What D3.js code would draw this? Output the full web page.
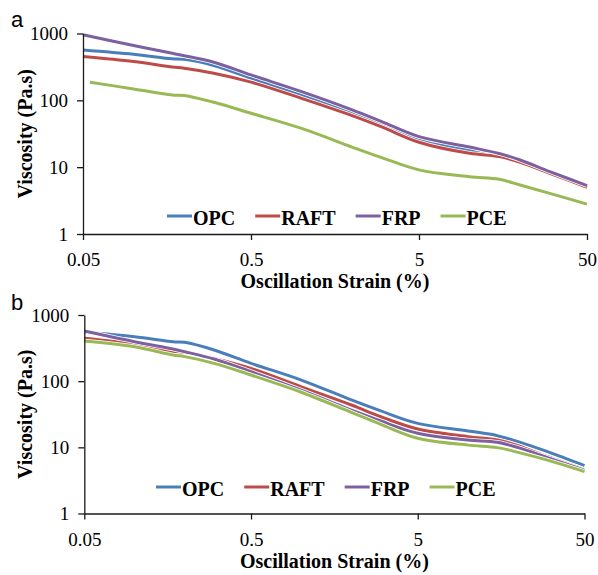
<!DOCTYPE html>
<html>
<head>
<meta charset="utf-8">
<script src="https://cdn.jsdelivr.net/npm/d3@7"></script>
<style>
  html, body { margin: 0; padding: 0; background: #fff; }
  svg { display: block; }
  svg text { font-family: 'Liberation Serif', 'Times New Roman', serif; }
  svg text.sans { font-family: 'Liberation Sans', Arial, sans-serif; }
</style>
</head>
<body>
<svg id="chart" width="598" height="575"></svg>
<script>
// ---- data ----
const seriesNames = ["OPC", "RAFT", "FRP", "PCE"];
const seriesColors = ["#4A7EBB", "#BE4B48", "#7D60A0", "#98B954"];
const strain = [0.05, 0.1, 0.17, 0.2, 0.3, 0.5, 1, 2, 3, 5, 10, 15, 20, 30, 50];
const strainPCEa = [0.055, 0.1, 0.17, 0.2, 0.3, 0.5, 1, 2, 3, 5, 10, 15, 20, 30, 50];

// panel a
const opcA  = [568, 490, 418, 410, 332, 215, 120, 66, 44, 25.5, 18, 15.2, 12, 8.4, 5.2];
const raftA = [451, 380, 316, 302, 254, 187, 107, 59, 40, 23.6, 16.1, 14.4, 11.8, 8.1, 5.0];
const frpA  = [955, 660, 505, 465, 372, 240, 135, 72, 48, 28.6, 20, 16, 12.8, 8.6, 5.3];
const pceA  = [187, 148, 120, 118, 93.5, 64, 38, 20, 13.9, 9.1, 7.2, 6.6, 5.4, 4.06, 2.8];

// panel b
const opcB  = [547, 470, 395, 387, 296, 186, 104, 52, 35.5, 23, 17.7, 15, 12.2, 8.6, 5.3];
const raftB = [444, 361, 279, 272, 221, 156, 82, 43.6, 29, 18.9, 14.5, 12.9, 10.6, 7.2, 4.6];
const frpB  = [573, 395, 306, 279, 216, 139, 73, 36.6, 25, 16.3, 12.9, 11.9, 9.9, 7.0, 4.5];
const pceB  = [404, 331, 248, 235, 186, 124, 68, 33.8, 22.3, 13.7, 10.8, 9.9, 8.4, 6.4, 4.3];

const xTicks = [0.05, 0.5, 5, 50];
const xTickLabels = ["0.05", "0.5", "5", "50"];
const yTicks = [1, 10, 100, 1000];
const yTickLabels = ["1", "10", "100", "1000"];
const xTitle = "Oscillation Strain (%)";
const yTitle = "Viscosity (Pa.s)";
const panelLabels = ["a", "b"];

// ---- layout ----
const panels = [
  { label: panelLabels[0], xs: [strain, strain, strain, strainPCEa], ys: [opcA, raftA, frpA, pceA],
    left: 83, right: 587, top: 33.5, bottom: 234, legendX: 167, legendY: 216, labelX: 11, labelY: 27 },
  { label: panelLabels[1], xs: [strain, strain, strain, strain], ys: [opcB, raftB, frpB, pceB],
    left: 84.3, right: 584.5, top: 315, bottom: 513.5, legendX: 156, legendY: 487, labelX: 11, labelY: 310 }
];

const svg = d3.select("#chart");
const serif = "'Liberation Serif', 'Times New Roman', serif";

panels.forEach(p => {
  const x = d3.scaleLog().domain([0.05, 50]).range([p.left, p.right]);
  const y = d3.scaleLog().domain([1, 1000]).range([p.bottom, p.top]);
  const g = svg.append("g");

  // lines
  const line = d3.line()
    .x(d => x(d[0])).y(d => y(d[1]))
    .curve(d3.curveCatmullRom.alpha(0.5));
  seriesNames.forEach((name, i) => {
    const pts = p.xs[i].map((s, k) => [s, p.ys[i][k]]);
    g.append("path").attr("d", line(pts))
      .attr("fill", "none").attr("stroke", "#fff").attr("stroke-width", 4.6)
      .attr("stroke-linejoin", "round");
    g.append("path").attr("d", line(pts))
      .attr("fill", "none").attr("stroke", seriesColors[i]).attr("stroke-width", 3)
      .attr("stroke-linejoin", "round");
  });

  // axes
  const xAxis = g.append("g").attr("transform", `translate(0,${p.bottom})`)
    .call(d3.axisBottom(x).tickValues(xTicks)
      .tickFormat((d, i) => xTickLabels[i]).tickSizeInner(6).tickSizeOuter(0));
  xAxis.attr("font-family", serif);
  xAxis.select(".domain").attr("stroke", "#1a1a1a").attr("stroke-width", 1.3);
  xAxis.selectAll(".tick line").attr("stroke", "#1a1a1a").attr("stroke-width", 1.3);
  xAxis.selectAll(".tick text").style("font-family", serif).attr("font-size", 19)
    .attr("fill", "#000").attr("y", 32).attr("dy", 0);

  const yAxis = g.append("g").attr("transform", `translate(${p.left},0)`)
    .call(d3.axisLeft(y).tickValues(yTicks)
      .tickFormat((d, i) => yTickLabels[i]).tickSizeInner(6).tickSizeOuter(0));
  yAxis.attr("font-family", serif);
  yAxis.select(".domain").attr("stroke", "#1a1a1a").attr("stroke-width", 1.3);
  yAxis.selectAll(".tick line").attr("stroke", "#1a1a1a").attr("stroke-width", 1.3);
  yAxis.selectAll(".tick text").style("font-family", serif).attr("font-size", 19)
    .attr("fill", "#000").attr("x", -15).attr("dy", "0.33em");

  // axis titles
  g.append("text").attr("x", (p.left + p.right) / 2).attr("y", p.bottom + 54)
    .attr("text-anchor", "middle").attr("font-weight", "bold")
    .attr("font-size", 20).text(xTitle);
  g.append("text").attr("transform", `translate(32,${(p.top + p.bottom) / 2}) rotate(-90)`)
    .attr("text-anchor", "middle").attr("font-weight", "bold")
    .attr("font-size", 20).text(yTitle);

  // panel label
  g.append("text").attr("class", "sans").attr("x", p.labelX).attr("y", p.labelY)
    .attr("font-size", 22).text(p.label);

  // legend
  let lx = p.legendX;
  seriesNames.forEach((name, i) => {
    g.append("line").attr("x1", lx).attr("x2", lx + 25)
      .attr("y1", p.legendY).attr("y2", p.legendY)
      .attr("stroke", seriesColors[i]).attr("stroke-width", 3);
    const t = g.append("text").attr("x", lx + 26).attr("y", p.legendY + 9)
      .attr("font-weight", "bold").attr("font-size", 20)
      .text(name);
    lx += 26 + t.node().getComputedTextLength() + 20;
  });
});
</script>
</body>
</html>
